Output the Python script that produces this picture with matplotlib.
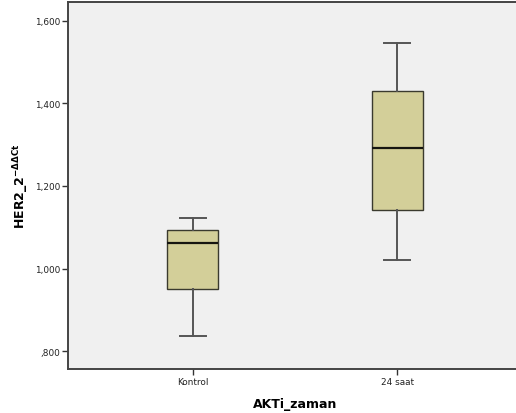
import matplotlib
matplotlib.use("Agg")
import matplotlib.pyplot as plt

# Group labels and five-number summaries of HER2 relative expression
groups = ["Kontrol", "24 saat"]
whisker_low = [0.836, 1.020]
q1 = [0.950, 1.143]
median = [1.063, 1.292]
q3 = [1.093, 1.430]
whisker_high = [1.122, 1.546]

y_ticks = [0.8, 1.0, 1.2, 1.4, 1.6]
y_tick_labels = [",800", "1,000", "1,200", "1,400", "1,600"]

fig = plt.figure(figsize=(5.16, 4.14), dpi=100)
fig.patch.set_facecolor("white")
ax = fig.add_axes([68 / 516, 44 / 414, 454 / 516, 367 / 414])
ax.set_facecolor("#F0F0F0")

stats = []
for i, g in enumerate(groups):
    stats.append(dict(label=g, whislo=whisker_low[i], q1=q1[i], med=median[i],
                      q3=q3[i], whishi=whisker_high[i], fliers=[]))

positions = [1, 2]
ax.bxp(stats, positions=positions, widths=0.25, capwidths=0.127,
       patch_artist=True, showfliers=False,
       boxprops=dict(facecolor="#D3CF99", edgecolor="#3A3A2E", linewidth=1.0),
       medianprops=dict(color="#151510", linewidth=1.6),
       whiskerprops=dict(color="#555555", linewidth=1.4),
       capprops=dict(color="#555555", linewidth=1.4))

ax.set_xlim(0.3905, 2.609)
ax.set_ylim(0.7564, 1.646)
ax.set_yticks(y_ticks)
ax.set_yticklabels(y_tick_labels)
ax.set_xticks(positions)
ax.set_xticklabels(groups)

ax.tick_params(axis="both", direction="out", length=4, width=1.0,
               color="#333333", labelsize=6.4, labelcolor="#222222", pad=1.5)

for side in ["left", "bottom", "top"]:
    ax.spines[side].set_color("#444444")
    ax.spines[side].set_linewidth(1.4)
ax.spines["right"].set_visible(False)

ax.set_xlabel("AKTi_zaman", fontsize=9, fontweight="bold", labelpad=8)
ax.set_ylabel(r"HER2_2$^{\mathbf{-\Delta\Delta Ct}}$", fontsize=9,
              fontweight="bold", labelpad=3)

fig.savefig("out.png", dpi=100)
